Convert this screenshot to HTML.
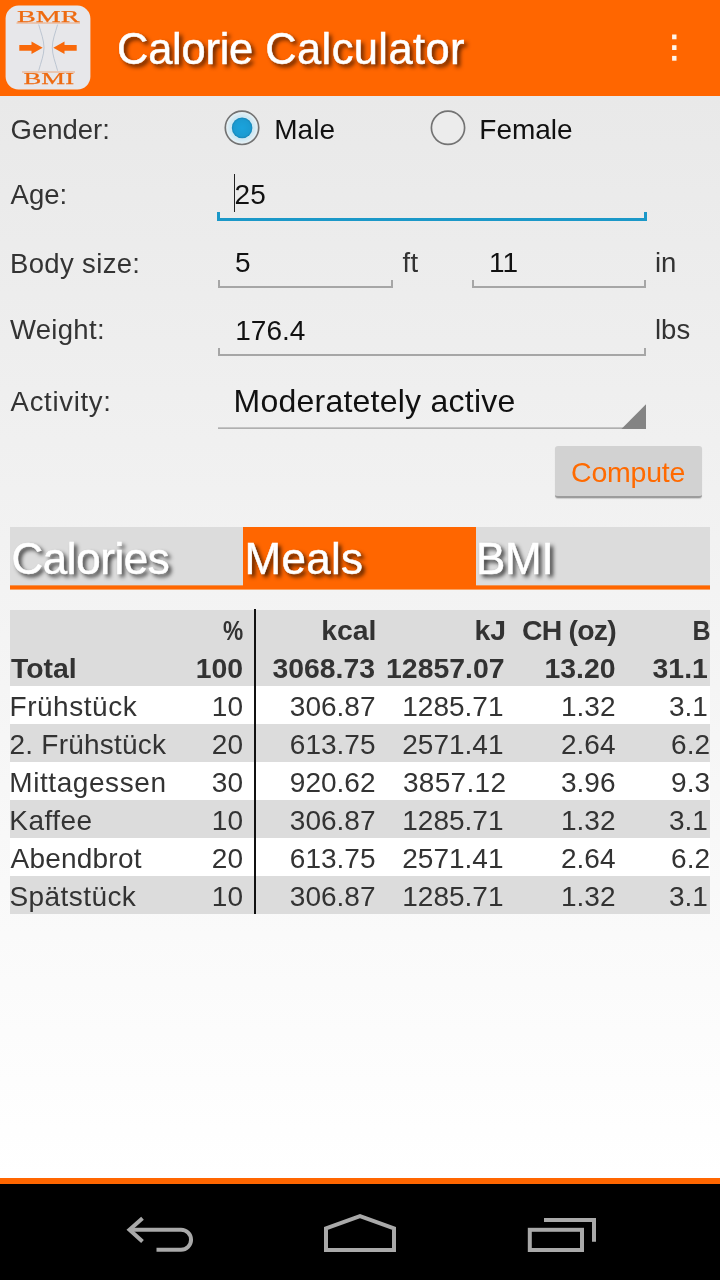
<!DOCTYPE html>
<html><head><meta charset="utf-8">
<style>
*{margin:0;padding:0;box-sizing:border-box}
html,body{width:720px;height:1280px;overflow:hidden}
body{will-change:transform;font-family:"Liberation Sans",sans-serif;background:linear-gradient(to bottom,#e8e8e8 0px,#e9e9e9 96px,#ffffff 1180px);position:relative;color:#333}
.abs{position:absolute;white-space:nowrap}
#bar{left:0;top:0;width:720px;height:96px;background:#ff6600}
#title{-webkit-text-stroke:0.5px #fff;left:117px;top:25px;font-size:43.5px;line-height:48px;color:#fff;text-shadow:3px 3px 4px rgba(70,25,0,.95)}
.lbl{font-size:27.5px;line-height:32px;color:#333}
.val{font-size:28px;line-height:32px;color:#111}
.unit{font-size:27.5px;line-height:32px;color:#333}
.fld{border:2px solid #a6a6a6;border-top:none;height:8px}
.fld.focus{border-color:#1b98c8;border-width:0 3px 3px 3px;height:9px}
#nav{left:0;top:1184px;width:720px;height:96px;background:#000}
#navline{left:0;top:1178px;width:720px;height:6px;background:#ff6600}
.tab{top:527px;height:58px;font-size:44px;line-height:58px;padding-top:3px;padding-left:1.5px;color:#fff;background:#dcdcdc;text-shadow:3px 3px 4px rgba(0,0,0,.8);-webkit-text-stroke:0.5px #fff;overflow:hidden}
.tab.sel{background:#ff6600;height:59px}
#tabline{left:10px;top:585px;width:700px;height:5px;background:linear-gradient(to bottom,#f1924f 0,#f1924f 1px,#ff6600 1px,#ff6600 4px,#f9a466 4px,#f9a466 5px)}
.row{left:10px;width:700px;height:38px}
.g{background:#dcdcdc}.w{background:#fff}
.c{font-size:28px;line-height:38px;color:#333;top:2px}
.b{font-weight:bold}

.r{text-align:right}
.c1{right:467px}.c2{right:334.5px}.c3{right:204px}.c4{right:94.5px}.c5{right:0px}
.b{font-size:28.4px}
.h1 .c2{right:333.5px}.h1 .c4{right:94px}.h1 .c4{letter-spacing:-.75px}
.h2 .c2{right:335px}.h2 .c3{right:205.5px}.h2 .c4{right:94.5px}
</style></head><body>
<div id="bar" class="abs"></div>
<svg class="abs" style="left:0;top:0" width="96" height="96" viewBox="0 0 96 96">
<rect x="5.6" y="5.6" width="84.8" height="84" rx="13" ry="13" fill="#e7e7ea"/>
<g fill="#ee6a10" font-family="'Liberation Serif',serif" font-size="17.6" stroke="#ee6a10" stroke-width=".25">
<text x="48.2" y="22.2" text-anchor="middle" textLength="62.5" lengthAdjust="spacingAndGlyphs">BMR</text>
<text x="48.8" y="84.2" text-anchor="middle" textLength="50.5" lengthAdjust="spacingAndGlyphs">BMI</text>
</g>
<path d="M16.5,23H80M22,72H75" stroke="#f08a48" stroke-width="0.7" fill="none"/>
<path d="M38.7,24.5C41,33 44,40 44,47.7C44,55 41,62 38.7,70.7M57.6,24.5C55.3,33 52.3,40 52.3,47.7C52.3,55 55.3,62 57.6,70.7" stroke="#a9b6c6" stroke-width="0.7" fill="none"/>
<path d="M19.3,45H31.5V41.6L42.7,47.8L31.5,54V50.7H19.3Z M76.7,45H64.5V41.6L53.3,47.8L64.5,54V50.7H76.7Z" fill="#f9690a"/>
</svg>
<svg class="abs" style="left:660px;top:24px" width="30" height="48" viewBox="660 24 30 48"><g fill="#fff6ec"><rect x="672.1" y="34.5" width="4.4" height="4.8"/><rect x="672.1" y="45.2" width="4.4" height="4.8"/><rect x="672.1" y="55.9" width="4.4" height="4.8"/></g></svg>
<div id="title" class="abs"><span style="letter-spacing:-.25px">Calorie</span> <span style="letter-spacing:.4px">Calculator</span></div>

<div class="abs lbl" style="left:10.5px;top:114px">Gender:</div>
<svg class="abs" style="left:212px;top:98px" width="60" height="60" viewBox="212 98 60 60"><defs><radialGradient id="rg"><stop offset="0" stop-color="#c4e3f1"/><stop offset="0.72" stop-color="#cfe8f3"/><stop offset="1" stop-color="#edf3f5"/></radialGradient><radialGradient id="dg"><stop offset="0" stop-color="#1aa3dc"/><stop offset="0.8" stop-color="#1a9bd2"/><stop offset="1" stop-color="#1787b8"/></radialGradient></defs><circle cx="242" cy="127.8" r="16.7" fill="url(#rg)" stroke="#737373" stroke-width="1.7"/><circle cx="242.1" cy="127.9" r="10.3" fill="url(#dg)"/></svg>
<div class="abs val" style="left:274.3px;top:114px">Male</div>
<svg class="abs" style="left:418px;top:98px" width="60" height="60" viewBox="418 98 60 60"><circle cx="448" cy="127.8" r="16.6" fill="#ececec" stroke="#737373" stroke-width="1.7"/></svg>
<div class="abs val" style="left:479.3px;top:114px">Female</div>

<div class="abs lbl" style="left:10.6px;top:178.5px">Age:</div>
<div class="abs val" style="left:234.6px;top:178.5px">25</div><div class="abs" style="left:233.6px;top:174px;width:1.6px;height:37.5px;background:#222"></div>
<div class="abs fld focus" style="left:217px;top:212px;width:430px"></div>

<div class="abs lbl" style="left:10px;top:247.5px;letter-spacing:.35px">Body size:</div>
<div class="abs val" style="left:235px;top:246.5px">5</div>
<div class="abs fld" style="left:218px;top:280px;width:175px"></div>
<div class="abs unit" style="left:402.5px;top:246.5px;letter-spacing:.4px">ft</div>
<div class="abs val" style="left:489px;top:246.5px">11</div>
<div class="abs fld" style="left:472px;top:280px;width:174px"></div>
<div class="abs unit" style="left:655px;top:247px">in</div>

<div class="abs lbl" style="left:10px;top:314px;letter-spacing:.3px">Weight:</div>
<div class="abs val" style="left:235.3px;top:314.5px">176.4</div>
<div class="abs fld" style="left:218px;top:348px;width:428px"></div>
<div class="abs unit" style="left:655px;top:314px">lbs</div>

<div class="abs lbl" style="left:10.6px;top:385.5px;letter-spacing:.7px">Activity:</div>
<div class="abs val" style="left:233.5px;top:383px;font-size:32px;line-height:36px;letter-spacing:.24px">Moderatetely active</div>

<svg class="abs" style="left:210px;top:400px" width="440" height="32" viewBox="210 400 440 32"><rect x="218" y="427.4" width="428" height="1.5" fill="#a8a8a8"/><path d="M646,404.3V428.9H621.4Z" fill="#848484"/></svg>
<div class="abs" id="btn" style="left:555px;top:446px;width:147px;height:52px;background:#d2d2d2;border-bottom:2px solid #9c9c9c;border-radius:3px;box-shadow:0 1px 1px rgba(0,0,0,.15)"></div>
<div class="abs" style="left:571px;top:456px;font-size:28.5px;line-height:32px;letter-spacing:-.2px;color:#ff6a00">Compute</div>
<div id="tabline" class="abs"></div>
<div class="abs tab" style="left:10px;width:233px;letter-spacing:-.45px">Calories</div>
<div class="abs tab sel" style="left:243px;width:233px;letter-spacing:.3px">Meals</div>
<div class="abs tab" style="left:476px;width:234px;padding-left:0;letter-spacing:-.3px">BMI</div>

<div class="abs g" style="left:10px;top:610px;width:700px;height:76px"></div>
<div class="abs row  h1" style="top:609px"><span class="abs c b r c1"><span style="display:inline-block;transform:scaleX(.8);transform-origin:100% 50%">%</span></span><span class="abs c b r c2">kcal</span><span class="abs c b r c3">kJ</span><span class="abs c b r c4">CH (oz)</span><span class="abs c b r c5" style="right:-.5px"><span style="display:inline-block;transform:scaleX(.88);transform-origin:100% 50%">B</span></span></div>
<div class="abs row  h2" style="top:647px"><span class="abs c b" style="left:1px;letter-spacing:0px">Total</span><span class="abs c b r c1">100</span><span class="abs c b r c2">3068.73</span><span class="abs c b r c3">12857.07</span><span class="abs c b r c4">13.20</span><span class="abs c b r c5" style="right:2.2px">31.1</span></div>
<div class="abs row w" style="top:686px"><span class="abs c" style="left:-0.5px;letter-spacing:0.53px">Frühstück</span><span class="abs c r c1">10</span><span class="abs c r c2">306.87</span><span class="abs c r c3" style="right:206.5px">1285.71</span><span class="abs c r c4">1.32</span><span class="abs c r c5" style="right:2.2px">3.1</span></div>
<div class="abs row g" style="top:724px"><span class="abs c" style="left:-0.5px;letter-spacing:0.23px">2. Frühstück</span><span class="abs c r c1">20</span><span class="abs c r c2">613.75</span><span class="abs c r c3" style="right:206.5px">2571.41</span><span class="abs c r c4">2.64</span><span class="abs c r c5">6.2</span></div>
<div class="abs row w" style="top:762px"><span class="abs c" style="left:-0.7px;letter-spacing:0.57px">Mittagessen</span><span class="abs c r c1">30</span><span class="abs c r c2">920.62</span><span class="abs c r c3" style="letter-spacing:.3px;right:203.7px">3857.12</span><span class="abs c r c4">3.96</span><span class="abs c r c5">9.3</span></div>
<div class="abs row g" style="top:800px"><span class="abs c" style="left:-0.7px;letter-spacing:0.46px">Kaffee</span><span class="abs c r c1">10</span><span class="abs c r c2">306.87</span><span class="abs c r c3" style="right:206.5px">1285.71</span><span class="abs c r c4">1.32</span><span class="abs c r c5" style="right:2.2px">3.1</span></div>
<div class="abs row w" style="top:838px"><span class="abs c" style="left:0.5px;letter-spacing:0.22px">Abendbrot</span><span class="abs c r c1">20</span><span class="abs c r c2">613.75</span><span class="abs c r c3" style="right:206.5px">2571.41</span><span class="abs c r c4">2.64</span><span class="abs c r c5">6.2</span></div>
<div class="abs row g" style="top:876px"><span class="abs c" style="left:-0.5px;letter-spacing:0.42px">Spätstück</span><span class="abs c r c1">10</span><span class="abs c r c2">306.87</span><span class="abs c r c3" style="right:206.5px">1285.71</span><span class="abs c r c4">1.32</span><span class="abs c r c5" style="right:2.2px">3.1</span></div>
<div class="abs" style="left:253.7px;top:609px;width:2.3px;height:305px;background:#111"></div>
<div id="navline" class="abs"></div>
<div id="nav" class="abs"></div>
<svg class="abs" style="left:0;top:1184px" width="720" height="96" viewBox="0 1184 720 96">
<g fill="none" stroke="#a9a9a9" stroke-width="4">
<path d="M142.5,1218.3L129.5,1229.7L142.5,1241.5"/>
<path d="M131,1229.7H181A10,10 0 0 1 181,1249.8H156.5"/>
<path d="M326,1250V1228.4L360,1216.2L394,1228.4V1250Z"/>
<rect x="529.8" y="1229.8" width="52.2" height="20.2"/>
<path d="M544,1220H594V1241.7"/>
</g></svg>
</body></html>
